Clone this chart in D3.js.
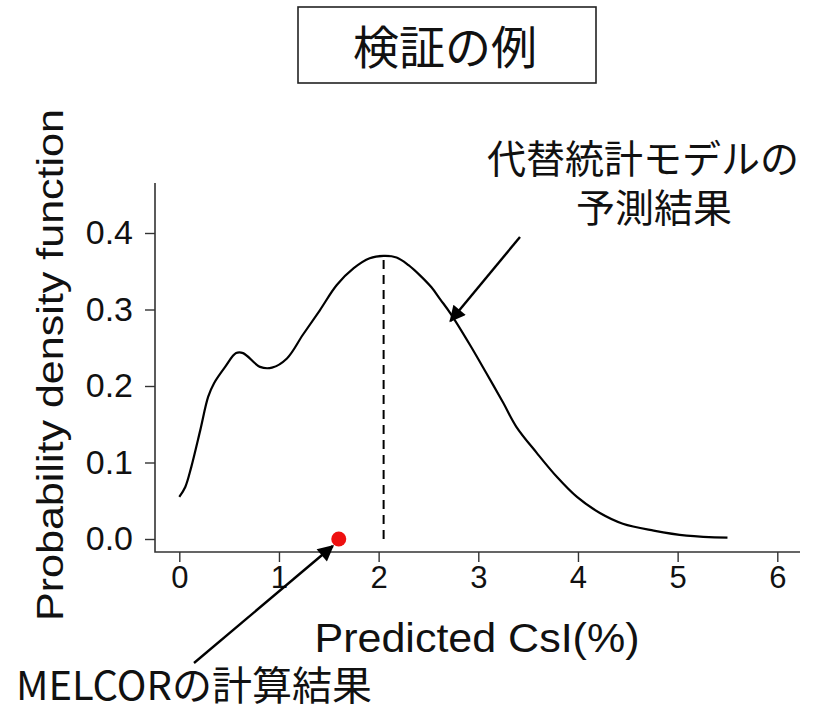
<!DOCTYPE html>
<html>
<head>
<meta charset="utf-8">
<script src="https://cdn.jsdelivr.net/npm/d3@7"></script>
<style>
  html, body { margin: 0; padding: 0; background: #fff; }
  svg { display: block; }
</style>
</head>
<body>
<svg id="chart" width="825" height="712"></svg>
<script>
// Estimated density of predicted CsI release (surrogate model)
const densityX = [0.00, 0.06, 0.12, 0.21, 0.29, 0.35, 0.46, 0.57, 0.64, 0.81, 0.93, 1.08, 1.24, 1.41, 1.58, 1.75, 1.91, 2.05, 2.18, 2.30, 2.42, 2.53, 2.62, 2.72, 2.92, 3.08, 3.25, 3.38, 3.59, 3.79, 3.99, 4.22, 4.45, 4.76, 5.09, 5.50];
const densityY = [0.055, 0.068, 0.094, 0.142, 0.186, 0.204, 0.225, 0.243, 0.243, 0.225, 0.224, 0.236, 0.267, 0.299, 0.332, 0.354, 0.367, 0.370, 0.368, 0.358, 0.344, 0.329, 0.313, 0.295, 0.253, 0.217, 0.178, 0.147, 0.112, 0.081, 0.055, 0.034, 0.020, 0.011, 0.0044, 0.0017];

// Mode of the predicted distribution
const modeX = 2.05;
const modeY = 0.370;

// MELCOR reference calculation
const melcorX = 1.6;
const melcorY = 0.0;

const xTicks = [0, 1, 2, 3, 4, 5, 6];
const yTicks = [0.0, 0.1, 0.2, 0.3, 0.4];

const titleText = "検証の例";
const xTitle = "Predicted CsI(%)";
const yTitle = "Probability density function";
const surrogateLabel = ["代替統計モデルの", "予測結果"];
const melcorLabel = "MELCORの計算結果";

const svg = d3.select("#chart");
const latin = "'Liberation Sans', Arial, sans-serif";
const cjk = "'Noto Sans CJK JP', sans-serif";

// Plot frame (pixel extents)
const frame = { left: 155, right: 800, top: 183, bottom: 552 };

const x = d3.scaleLinear().domain([0, 6]).range([179.3, 777.3]);
const y = d3.scaleLinear().domain([0, 0.4]).range([539, 233]);

const axisColor = "#333";

// Axis lines (L-shaped box)
svg.append("path")
  .attr("d", `M${frame.left},${frame.top}V${frame.bottom}H${frame.right}`)
  .attr("fill", "none")
  .attr("stroke", axisColor)
  .attr("stroke-width", 1.6);

// X axis ticks and labels
const gx = svg.append("g")
  .attr("transform", `translate(0,${frame.bottom})`)
  .call(d3.axisBottom(x).tickValues(xTicks).tickFormat(d3.format("d")).tickSize(10).tickPadding(4));
gx.select(".domain").remove();
gx.selectAll(".tick line").attr("stroke", axisColor).attr("stroke-width", 1.4);
gx.selectAll(".tick text")
  .attr("font-family", latin)
  .attr("font-size", 31)
  .attr("fill", "#111");

// Y axis ticks and labels
const gy = svg.append("g")
  .attr("transform", `translate(${frame.left},0)`)
  .call(d3.axisLeft(y).tickValues(yTicks).tickFormat(d3.format(".1f")).tickSize(10).tickPadding(12));
gy.select(".domain").remove();
gy.selectAll(".tick line").attr("stroke", axisColor).attr("stroke-width", 1.4);
gy.selectAll(".tick text")
  .attr("font-family", latin)
  .attr("font-size", 34)
  .attr("fill", "#111");

// Axis titles
svg.append("text")
  .attr("x", 477).attr("y", 652)
  .attr("text-anchor", "middle")
  .attr("font-family", latin)
  .attr("font-size", 40)
  .attr("fill", "#111")
  .attr("textLength", 325)
  .attr("lengthAdjust", "spacingAndGlyphs")
  .text(xTitle);

svg.append("text")
  .attr("transform", "translate(63,365) rotate(-90)")
  .attr("text-anchor", "middle")
  .attr("font-family", latin)
  .attr("font-size", 37)
  .attr("fill", "#111")
  .attr("textLength", 512)
  .attr("lengthAdjust", "spacingAndGlyphs")
  .text(yTitle);

// Density curve
const line = d3.line()
  .x(d => x(d[0]))
  .y(d => y(d[1]))
  .curve(d3.curveCatmullRom.alpha(0.5));

svg.append("path")
  .datum(d3.zip(densityX, densityY))
  .attr("d", line)
  .attr("fill", "none")
  .attr("stroke", "#000")
  .attr("stroke-width", 2.2)
  .attr("stroke-linejoin", "round");

// Dashed line at the mode
svg.append("line")
  .attr("x1", x(modeX)).attr("x2", x(modeX))
  .attr("y1", y(0)).attr("y2", y(modeY))
  .attr("stroke", "#000")
  .attr("stroke-width", 2)
  .attr("stroke-dasharray", "9,6");

// MELCOR point
svg.append("circle")
  .attr("cx", x(melcorX)).attr("cy", y(melcorY))
  .attr("r", 7.5)
  .attr("fill", "#ee1010");

// Arrow marker
svg.append("defs").append("marker")
  .attr("id", "head")
  .attr("viewBox", "0 0 10 10")
  .attr("refX", 9).attr("refY", 5)
  .attr("markerUnits", "userSpaceOnUse")
  .attr("markerWidth", 20).attr("markerHeight", 16)
  .attr("orient", "auto")
  .append("path")
  .attr("d", "M0,0L10,5L0,10Z")
  .attr("fill", "#000");

// Arrow to the density curve
svg.append("line")
  .attr("x1", 520).attr("y1", 237)
  .attr("x2", x(2.72)).attr("y2", y(0.285))
  .attr("stroke", "#000").attr("stroke-width", 2.4)
  .attr("marker-end", "url(#head)");

// Arrow to the MELCOR point
svg.append("line")
  .attr("x1", 194).attr("y1", 663)
  .attr("x2", x(melcorX) - 6).attr("y2", y(melcorY) + 7)
  .attr("stroke", "#000").attr("stroke-width", 2.4)
  .attr("marker-end", "url(#head)");

// Title box
svg.append("rect")
  .attr("x", 298).attr("y", 7)
  .attr("width", 298).attr("height", 76)
  .attr("fill", "#fff")
  .attr("stroke", "#222")
  .attr("stroke-width", 1.6);

svg.append("text")
  .attr("x", 445).attr("y", 44)
  .attr("text-anchor", "middle")
  .attr("dominant-baseline", "central")
  .attr("font-family", cjk)
  .attr("font-size", 46)
  .attr("fill", "#111")
  .text(titleText);

// Surrogate model label, one text per line
surrogateLabel.forEach((s, i) => {
  svg.append("text")
    .attr("x", i === 0 ? 643 : 654)
    .attr("y", i === 0 ? 156 : 205)
    .attr("text-anchor", "middle")
    .attr("dominant-baseline", "central")
    .attr("font-family", cjk)
    .attr("font-size", 39)
    .attr("fill", "#111")
    .text(s);
});

// MELCOR label
svg.append("text")
  .attr("x", 16).attr("y", 700)
  .attr("font-family", cjk)
  .attr("font-size", 40)
  .attr("fill", "#111")
  .text(melcorLabel);
</script>
</body>
</html>
